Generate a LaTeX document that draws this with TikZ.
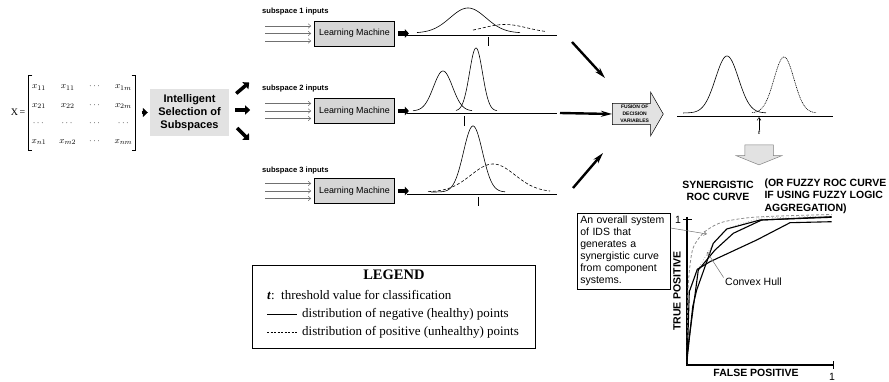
\documentclass[tikz,border=0pt]{standalone}
\usepackage{amsmath}
\usepackage{fontspec}
\setmainfont{Liberation Sans}
\newfontfamily\timesfont{Liberation Serif}
\usetikzlibrary{arrows.meta, positioning, shapes.arrows}
\definecolor{lmgray}{HTML}{D6D6D6}
\definecolor{selgray}{HTML}{E2E2E2}
\definecolor{ingray}{HTML}{707070}
\definecolor{hullgray}{HTML}{A0A0A0}
\definecolor{syngray}{HTML}{8C8C8C}

\begin{document}
\begin{tikzpicture}[
  x=1pt, y=-1pt,
  lmbox/.style={draw, line width=0.8pt, fill=lmgray, minimum width=80pt,
    minimum height=25pt, inner sep=0pt, font=\fontsize{8.9}{10}\selectfont},
  sublabel/.style={anchor=west, inner sep=0pt, font=\bfseries\fontsize{7.6}{9}\selectfont},
  inarr/.style={ingray, line width=0.5pt, -{Straight Barb[length=2.5pt, width=4.5pt]}},
  fatarr/.style={line width=3.5pt, -{Triangle[length=5pt, width=9pt]}},
  outarr/.style={line width=4.5pt, -{Triangle[length=4pt, width=8.5pt]}},
  fusearr/.style={line width=2.4pt, -{Stealth[length=11pt, width=6pt]}},
  axisline/.style={line width=0.8pt},
  negcurve/.style={line width=0.6pt},
  poscurve/.style={line width=0.6pt, dash pattern=on 3pt off 2pt},
  tmark/.style={line width=0.6pt},
  bracket/.style={line width=0.7pt},
  rocaxis/.style={line width=1.5pt},
  roccurve/.style={line width=1.1pt, line join=round},
  rocfont/.style={font=\bfseries\fontsize{10.5}{12.5}\selectfont},
  plainfont/.style={font=\fontsize{10.5}{12}\selectfont},
  legfont/.style={anchor=west, inner sep=0pt, font=\timesfont\fontsize{13}{15}\selectfont},
  thinarr/.style={ingray, line width=0.5pt, -{Straight Barb[length=3pt, width=4pt]}},
]
\useasboundingbox (0,0) rectangle (889,382);

% ===== Data matrix and subspace selection =====
\node[font=\fontsize{9.5}{11}\selectfont, inner xsep=0pt, inner ysep=1pt,
      minimum height=69pt] (mtx) at (82,112.5)
  {\renewcommand{\arraystretch}{1.65}\setlength{\arraycolsep}{6.5pt}%
   $\begin{array}{@{\hspace{3pt}}cccc@{\hspace{3pt}}}
     x_{11} & x_{11} & \cdots & x_{1m}\\
     x_{21} & x_{22} & \cdots & x_{2m}\\
     \cdots & \cdots & \cdots & \cdots\\
     x_{n1} & x_{m2} & \cdots & x_{nm}
   \end{array}$};
\draw[bracket] ([xshift=4pt]mtx.north west) -- (mtx.north west) -- (mtx.south west) -- ([xshift=4pt]mtx.south west);
\draw[bracket] ([xshift=-4pt]mtx.north east) -- (mtx.north east) -- (mtx.south east) -- ([xshift=-4pt]mtx.south east);
\node[font=\timesfont\fontsize{10}{12}\selectfont, inner sep=0pt, left=3pt of mtx] (xlab) {X\,=};

\node[fill=selgray, minimum width=79pt, minimum height=47pt, inner sep=0pt,
      align=center, font=\bfseries\fontsize{11}{13}\selectfont] (select) at (189.5,112.5)
  {Intelligent\\Selection of\\Subspaces};

\draw[fatarr, shorten <=6pt, shorten >=2pt] (mtx.east) -- (select.west);
\draw[fatarr] ([shift={(7,-19)}]select.east) -- ++(13,-11);
\draw[fatarr] ([shift={(6,-2.5)}]select.east) -- ++(15,0);
\draw[fatarr] ([shift={(8,15.5)}]select.east) -- ++(12,12);

% ===== Subspace 1 =====
\node[lmbox] (lm1) at (354.5,33.5) {Learning Machine};
\node[sublabel] (sub1) at (262,12) {subspace 1 inputs};
\foreach \dy in {-7.5,0,7.5}
  \draw[inarr] ([shift={(-49,\dy)}]lm1.west) -- ([shift={(-3,\dy)}]lm1.west);
\draw[outarr] ([xshift=3pt]lm1.east) -- ++(11,0);
\draw[axisline] (407,35) -- (557,35);
\draw[negcurve] plot[domain=417:520, samples=80] (\x, {33-25*exp(-((\x-468)/18)^2/2)});
\draw[poscurve] plot[domain=473:545, samples=60] (\x, {33-8.5*exp(-((\x-505)/22)^2/2)});
\draw[tmark] (488,37) -- (488,46);

% ===== Subspace 2 =====
\node[lmbox] (lm2) at (354.5,111) {Learning Machine};
\node[sublabel] (sub2) at (262,89) {subspace 2 inputs};
\foreach \dy in {-7.5,0,7.5}
  \draw[inarr] ([shift={(-49,\dy)}]lm2.west) -- ([shift={(-3,\dy)}]lm2.west);
\draw[outarr] ([xshift=3pt]lm2.east) -- ++(11,0);
\draw[axisline] (407,113) -- (557,113);
\coordinate (ax2) at (557,113);
\draw[negcurve] plot[domain=413:472, samples=70] (\x, {111-40*exp(-((\x-443)/9.5)^2/2)});
\draw[negcurve] plot[domain=456:497, samples=70] (\x, {111-63*exp(-((\x-476)/6.5)^2/2)});
\draw[tmark] (464,116) -- (464,126);

% ===== Subspace 3 =====
\node[lmbox] (lm3) at (354.5,191) {Learning Machine};
\node[sublabel] (sub3) at (262,171) {subspace 3 inputs};
\foreach \dy in {-7.5,0,7.5}
  \draw[inarr] ([shift={(-49,\dy)}]lm3.west) -- ([shift={(-3,\dy)}]lm3.west);
\draw[outarr] ([xshift=3pt]lm3.east) -- ++(11,0);
\draw[axisline] (407,194) -- (557,194);
\draw[negcurve] plot[domain=431:505, samples=90] (\x, {192-66*exp(-((\x-473)/9.5)^2/2)});
\draw[poscurve] plot[domain=428:550, samples=80] (\x, {192-28*exp(-((\x-493)/22)^2/2)});
\draw[tmark] (478,197) -- (478,206);

% ===== Fusion =====
\node[single arrow, draw, line width=0.5pt, fill=selgray, minimum height=51pt,
      single arrow head extend=11.5pt, single arrow tip angle=120, inner sep=1.5pt,
      align=center, font=\bfseries\fontsize{5}{7}\selectfont, anchor=tail] (fusion) at (612,114)
  {FUSION OF\\DECISION\\VARIABLES};

\draw[fusearr] ([shift={(-40,-72)}]fusion.tail) -- ([shift={(-7,-36)}]fusion.tail);
\draw[fusearr] ([xshift=3pt]ax2) -- (fusion.tail);
\draw[fusearr] ([shift={(-39,74)}]fusion.tail) -- ([shift={(-9,39)}]fusion.tail);

% fused distributions
\draw[axisline] (677,116) -- (833,116);
\draw[negcurve] plot[domain=683:766, samples=90] (\x, {113-57*exp(-((\x-727)/11.5)^2/2)});
\draw[negcurve, dash pattern=on 1pt off 0.8pt] plot[domain=752:816, samples=80] (\x, {113-56*exp(-((\x-784)/10)^2/2)});
\node[font=\bfseries\itshape\fontsize{6}{7}\selectfont, inner sep=0.5pt] (tfuse) at (759,133) {t};
\coordinate (tpt) at (759,117);
\draw[thinarr, black] (tfuse.north) -- (tpt);

\node[single arrow, draw=gray, line width=0.5pt, fill=selgray, rotate=-90,
      minimum height=20pt, inner xsep=0pt, inner ysep=14pt,
      single arrow head extend=8.5pt, single arrow tip angle=136] (down) at (759,152) {};

% ===== ROC curve =====
\node[rocfont, align=center] (syntitle) at (718,191) {SYNERGISTIC\\ROC CURVE};
\node[rocfont, align=left, anchor=west] (fuzzy) at (761,196)
  {(OR FUZZY ROC CURVE\\IF USING FUZZY LOGIC\\AGGREGATION)};

\draw[rocaxis] (687,217) -- (687,365) -- (833,365);
\draw[line width=1pt] (683,220) -- (692,220);
\draw[line width=1pt] (833,361) -- (833,369);
\node[plainfont] (oney) at (678,220) {1};
\node[plainfont] (onex) at (832,377) {1};
\node[rocfont, rotate=90] (tp) at (677,291) {TRUE POSITIVE};
\node[rocfont] (fp) at (756,373) {FALSE POSITIVE};

\draw[hullgray, line width=0.7pt, dotted] (687,365) -- (689.3,291.7) -- (698,269)
  -- (713.3,243.3) -- (728,228) -- (760,218) -- (831.7,216);
\draw[syngray, line width=0.8pt, dash pattern=on 3pt off 2pt] plot[smooth] coordinates
  {(687.3,363) (688,290) (692,252) (699,238) (707,230) (723,222) (757,217) (831.7,214.5)};
\draw[roccurve] (687,365) -- (689.3,291.7) -- (697.3,269.3) -- (710,261.7)
  -- (756.7,240) -- (790,222.7) -- (831.7,221.7);
\draw[roccurve] (686.7,363.3) -- (692.7,306.7) -- (696.7,290) -- (713.3,243.3)
  -- (726.7,229) -- (760,220) -- (831.7,217.3);
\draw[roccurve] (686.7,356.7) -- (698.3,270) -- (715,250) -- (733.3,233.3)
  -- (761.7,220) -- (831.7,216.7);

\node[draw, line width=0.6pt, align=left, anchor=north west, inner sep=3pt,
      text width=87pt, plainfont] (note) at (577,213)
  {An overall system\\of IDS that\\generates a\\synergistic curve\\from component\\systems.};
\coordinate (synpt) at (707,234);
\draw[thinarr] ([yshift=-15pt]note.north east) -- (synpt);

\node[plainfont] (hull) at (753.5,282) {Convex Hull};
\coordinate (hullpt) at (707,252);
\draw[thinarr] ([shift={(2,3)}]hull.north west) -- (hullpt);

% ===== Legend =====
\node[draw, line width=0.8pt, minimum width=283pt, minimum height=83pt,
      anchor=north west] (legend) at (252,265) {};
\node[font=\timesfont\bfseries\fontsize{14.5}{16}\selectfont, below=1pt of legend.north] (legtitle) {LEGEND};
\node[legfont] (legt) at ([shift={(15,30)}]legend.north west)
  {\textbf{\textit{t}}:\ \ threshold value for classification};
\draw[line width=0.8pt] ([shift={(15,49)}]legend.north west) -- ++(30,0);
\node[legfont] (legneg) at ([shift={(50,49)}]legend.north west)
  {distribution of negative (healthy) points};
\draw[line width=0.8pt, dash pattern=on 2pt off 1.5pt] ([shift={(15,67)}]legend.north west) -- ++(30,0);
\node[legfont] (legpos) at ([shift={(50,67)}]legend.north west)
  {distribution of positive (unhealthy) points};

\end{tikzpicture}
\end{document}
